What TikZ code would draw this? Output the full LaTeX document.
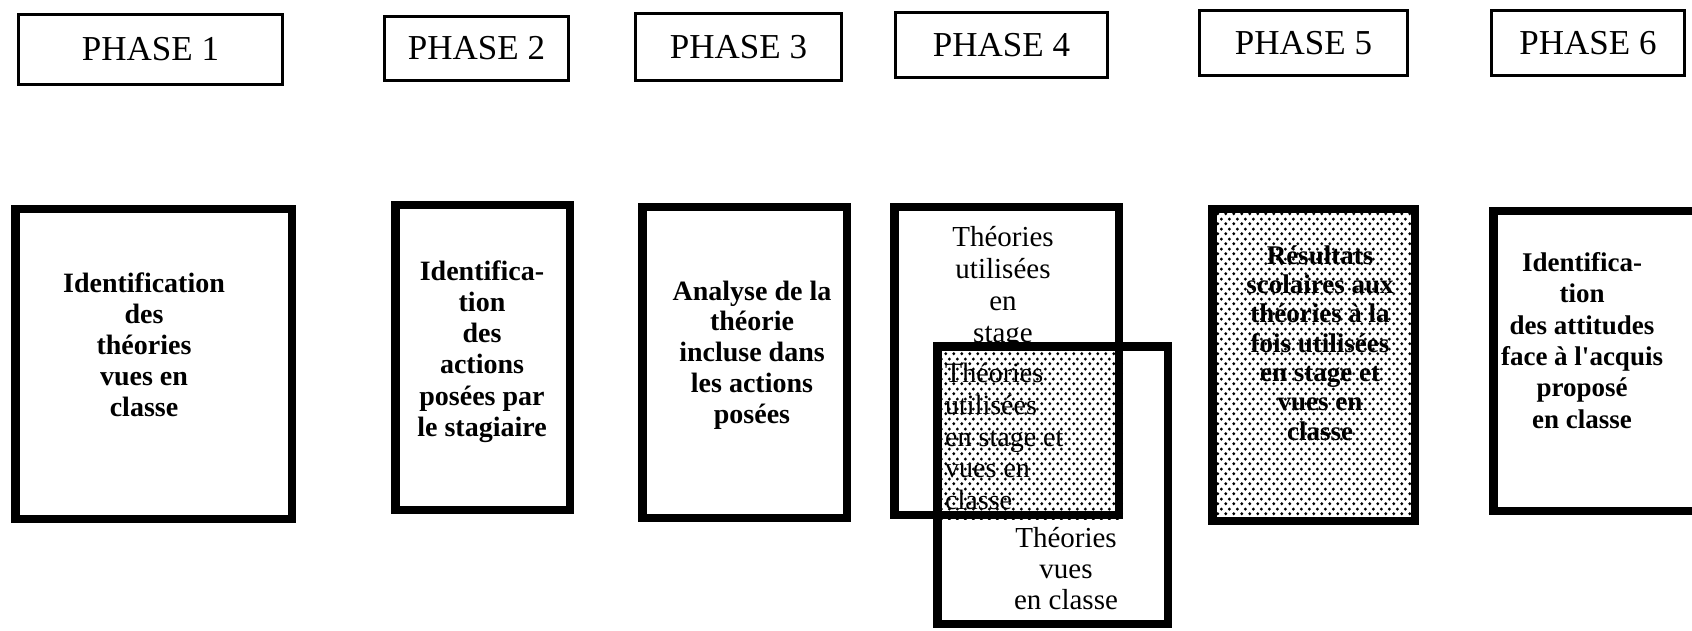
\documentclass[tikz,border=0pt]{standalone}
\usepackage{fontspec}
\setmainfont{Liberation Serif}
\usetikzlibrary{patterns.meta,backgrounds}

% staggered dot screen used for the shaded boxes
\tikzdeclarepattern{
  name=stipple,
  type=colored,
  bounding box={(0pt,0pt) and (8pt,9.6pt)},
  tile size={(8pt,9.6pt)},
  code={
    \fill[black] (2pt,2.4pt) circle[radius=1.75pt];
    \fill[black] (6pt,7.2pt) circle[radius=1.75pt];
  }
}

\begin{document}
\begin{tikzpicture}[x=1pt,y=-1pt,
  phasebox/.style={draw, line width=3pt, inner sep=0pt,
    font=\fontsize{35}{40}\selectfont},
  stagebox/.style={draw, line width=8.5pt, inner sep=0pt},
  boldlbl/.style={align=center, inner sep=0pt,
    font=\bfseries\fontsize{28}{31}\selectfont},
  plainlbl/.style={align=center, inner sep=0pt,
    font=\fontsize{29}{31}\selectfont},
]
\useasboundingbox (0,0) rectangle (1692,631);

% phase headings
\node[phasebox, minimum width=264, minimum height=70] (h1) at (150.5,49.5) {PHASE 1};
\node[phasebox, minimum width=184, minimum height=64] (h2) at (476.5,48.5) {PHASE 2};
\node[phasebox, minimum width=206, minimum height=67] (h3) at (738.5,47) {PHASE 3};
\node[phasebox, minimum width=212, minimum height=65] (h4) at (1001.5,45) {PHASE 4};
\node[phasebox, minimum width=208, minimum height=65] (h5) at (1303.5,43) {PHASE 5};
\node[phasebox, minimum width=193, minimum height=65] (h6) at (1588,43) {PHASE 6};

% phase boxes
\node[stagebox, minimum width=276.5, minimum height=309.5] (b1) at (153.5,364) {};
\node[stagebox, minimum width=174.5, minimum height=304.5] (b2) at (482.5,357.5) {};
\node[stagebox, minimum width=204.5, minimum height=310.5] (b3) at (744.5,362.5) {};
\node[stagebox, minimum width=224.5, minimum height=307.5] (b4a) at (1006.5,361) {};
\node[stagebox, minimum width=230.5, minimum height=277.5] (b4b) at (1052.5,485) {};
\node[stagebox, pattern=stipple, minimum width=202.5, minimum height=311.5] (b5) at (1313.5,365) {};
\node[stagebox, minimum width=229.5, minimum height=299.5] (b6) at (1608,361) {};

% overlap of the two phase 4 boxes
\begin{scope}[on background layer]
  \path[pattern=stipple] (b4b.north west) rectangle (b4a.south east);
\end{scope}

% box texts
\node[boldlbl] (t1) at (144,344.5) {Identification\\des\\théories\\vues en\\classe};
\node[boldlbl, font=\bfseries\fontsize{28}{31.2}\selectfont] (t2) at (482,351.5)
  {Identifica-\\tion\\des\\actions\\posées par\\le stagiaire};
\node[boldlbl, font=\bfseries\fontsize{28}{30.8}\selectfont] (t3) at (752,355)
  {Analyse de la\\théorie\\incluse dans\\les actions\\posées};
\node[plainlbl, font=\fontsize{29}{32}\selectfont] (t4a) at (1003,288) {Théories\\utilisées\\en\\stage};
\node[plainlbl, font=\fontsize{28}{31.8}\selectfont, align=left, anchor=west] (t4c) at (945,436.5)
  {Théories\\utilisées\\en stage et\\vues en\\classe};
\node[plainlbl, font=\fontsize{29}{31}\selectfont] (t4b) at (1066,569) {Théories\\vues\\en classe};
\node[boldlbl, font=\bfseries\fontsize{27}{29.3}\selectfont] (t5) at (1320,343)
  {Résultats\\scolaires aux\\théories à la\\fois utilisées\\en stage et\\vues en\\classe};
\node[boldlbl, font=\bfseries\fontsize{27}{31.3}\selectfont] (t6) at (1582,340.5)
  {Identifica-\\tion\\des attitudes\\face à l\textquotesingle acquis\\proposé\\en classe};
\end{tikzpicture}
\end{document}
